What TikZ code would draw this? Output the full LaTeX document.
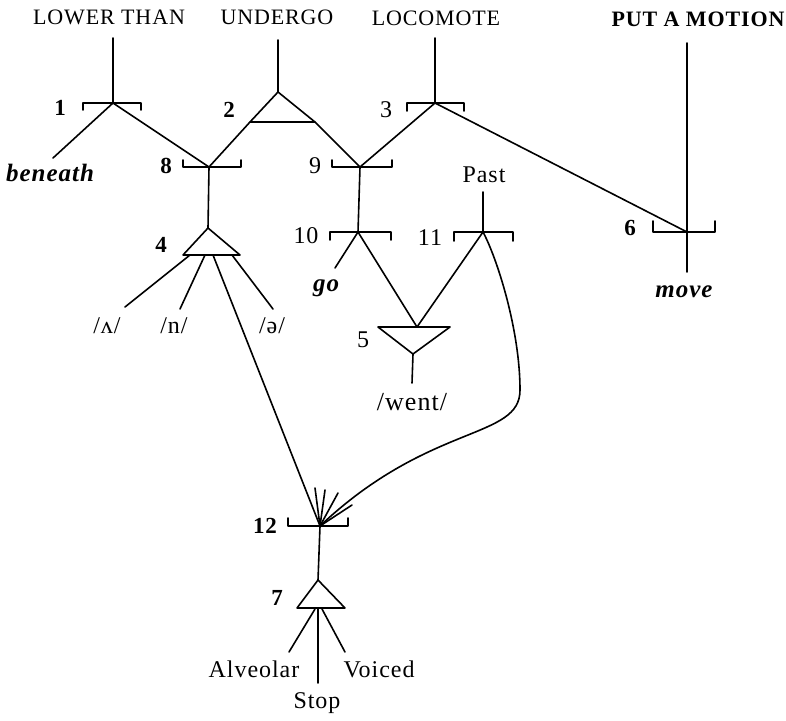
\documentclass[tikz,border=0pt]{standalone}
\usepackage{fontspec}
\setmainfont{Liberation Serif}[LetterSpace=4]
\begin{document}
\begin{tikzpicture}[x=1pt,y=-1pt,
  ln/.style={line width=1.6pt, line cap=round, line join=round},
  caplab/.style={anchor=base, inner sep=0pt, font=\fontsize{22}{24}\selectfont},
  lab/.style={anchor=base, inner sep=0pt, font=\fontsize{24}{26}\selectfont},
  blab/.style={anchor=base, inner sep=0pt, font=\fontsize{23}{26}\selectfont\bfseries},
  ilab/.style={anchor=base, inner sep=0pt, font=\fontsize{25}{26}\selectfont\bfseries\itshape}]
\useasboundingbox (0,0) rectangle (786,720);
% ---------- labels ----------
\node[caplab]  (lt)  at (109,24) {LOWER THAN};
\node[caplab]  (ug)  at (277,24) {UNDERGO};
\node[caplab]  (lc)  at (436,25) {LOCOMOTE};
\node[caplab, font=\fontsize{22}{24}\selectfont\bfseries] (pm) at (698,26) {PUT A MOTION};
\node[ilab] (bn)  at (50,181) {beneath};
\node[ilab] (go)  at (326,291) {go};
\node[ilab] (mv)  at (684,297) {move};
\node[lab]  (past) at (484,182) {Past};
\node[blab] (n1)  at (60,115) {1};
\node[blab] (n2)  at (229,117) {2};
\node[lab]  (n3)  at (386,117) {3};
\node[blab] (n8)  at (166,173) {8};
\node[lab]  (n9)  at (315,173) {9};
\node[lab]  (n10) at (306,243) {10};
\node[lab]  (n11) at (430,245) {11};
\node[blab] (n6)  at (630,235) {6};
\node[blab] (n4)  at (161,252) {4};
\node[lab]  (n5)  at (363,347) {5};
\node[blab] (n12) at (265,533) {12};
\node[blab] (n7)  at (277,605) {7};
\node[lab]  (pa)  at (107,333) {/ʌ/};
\node[lab]  (pn)  at (174,333) {/n/};
\node[lab]  (pe)  at (272,333) {/ə/};
\node[lab, font=\fontsize{26}{28}\selectfont] (went) at (412,410) {/went/};
\node[lab]  (alv) at (254,677) {Alveolar};
\node[lab]  (voi) at (379,677) {Voiced};
\node[lab]  (stp) at (317,708) {Stop};
% ---------- junction points ----------
\coordinate (j1)  at (113,103);
\coordinate (j8)  at (209,167);
\coordinate (j3)  at (435,103);
\coordinate (j9)  at (360,167);
\coordinate (j10) at (358,232);
\coordinate (j11) at (483,232);
\coordinate (j6)  at (687,232);
\coordinate (j12) at (320,526);
% free ends
\coordinate (e1)  at (113,38);
\coordinate (e2)  at (278,40);
\coordinate (e3)  at (435,38);
\coordinate (e6)  at (687,43);
\coordinate (e6b) at (687,272);
\coordinate (ebn) at (53,158);
\coordinate (ego) at (335,268);
\coordinate (epast) at (483,192);
\coordinate (ewent) at (412,383);
\coordinate (ea)  at (125,307);
\coordinate (en)  at (180,309);
\coordinate (ee)  at (273,309);
\coordinate (ealv) at (289,652);
\coordinate (evoi) at (345,652);
\coordinate (estp) at (318,683);
\coordinate (s1) at (315,488);
\coordinate (s2) at (325,490);
\coordinate (s3) at (338,493);
\coordinate (s4) at (352,505);
% ---------- triangles ----------
\coordinate (t2a) at (278,92);  \coordinate (t2l) at (250,122); \coordinate (t2r) at (315,122);
\coordinate (t4a) at (208,228); \coordinate (t4l) at (183,255); \coordinate (t4r) at (240,255);
\coordinate (t4p1) at (190,255); \coordinate (t4p2) at (205,255);
\coordinate (t4p3) at (213,255); \coordinate (t4p4) at (232,255);
\coordinate (t5l) at (378,327); \coordinate (t5r) at (450,327);
\coordinate (t5a) at (413,354); \coordinate (t5m) at (417,327);
\coordinate (t7a) at (318,580); \coordinate (t7l) at (297,608); \coordinate (t7r) at (345,608);
\coordinate (t7p1) at (315,609); \coordinate (t7p2) at (318,609); \coordinate (t7p3) at (322,609);
\draw[ln] (t2a) -- (t2l) -- (t2r) -- cycle;
\draw[ln] (t4a) -- (t4l) -- (t4r) -- cycle;
\draw[ln] (t5l) -- (t5r) -- (t5a) -- cycle;
\draw[ln] (t7a) -- (t7l) -- (t7r) -- cycle;
% ---------- brackets ----------
\draw[ln] ([shift={(-30,7)}]j1) -- ([shift={(-30,0)}]j1) -- ([shift={(28,0)}]j1) -- ([shift={(28,7)}]j1);
\draw[ln] ([shift={(-26,-7)}]j8) -- ([shift={(-26,0)}]j8) -- ([shift={(32,0)}]j8) -- ([shift={(32,-7)}]j8);
\draw[ln] ([shift={(-28,8)}]j3) -- ([shift={(-28,0)}]j3) -- ([shift={(29,0)}]j3) -- ([shift={(29,8)}]j3);
\draw[ln] ([shift={(-28,-7)}]j9) -- ([shift={(-28,0)}]j9) -- ([shift={(32,0)}]j9) -- ([shift={(32,-7)}]j9);
\draw[ln] ([shift={(-28,8)}]j10) -- ([shift={(-28,0)}]j10) -- ([shift={(33,0)}]j10) -- ([shift={(33,8)}]j10);
\draw[ln] ([shift={(-29,9)}]j11) -- ([shift={(-29,0)}]j11) -- ([shift={(30,0)}]j11) -- ([shift={(30,9)}]j11);
\draw[ln] ([shift={(-34,-11)}]j6) -- ([shift={(-34,0)}]j6) -- ([shift={(28,0)}]j6) -- ([shift={(28,-11)}]j6);
\draw[ln] ([shift={(-32,-8)}]j12) -- ([shift={(-32,0)}]j12) -- ([shift={(28,0)}]j12) -- ([shift={(28,-8)}]j12);
% ---------- connectors ----------
\draw[ln] (e1) -- (j1);
\draw[ln] (j1) -- (ebn);
\draw[ln] (j1) -- (j8);
\draw[ln] (j8) -- (t2l);
\draw[ln] (e2) -- (t2a);
\draw[ln] (t2r) -- (j9);
\draw[ln] (e3) -- (j3);
\draw[ln] (j3) -- (j9);
\draw[ln] (j3) -- (j6);
\draw[ln] (e6) -- (e6b);
\draw[ln] (j9) -- (j10);
\draw[ln] (j10) -- (ego);
\draw[ln] (j10) -- (t5m);
\draw[ln] (epast) -- (j11);
\draw[ln] (j11) -- (t5m);
\draw[ln] (t5a) -- (ewent);
\draw[ln] (j8) -- (t4a);
\draw[ln] (t4p1) -- (ea);
\draw[ln] (t4p2) -- (en);
\draw[ln] (t4p4) -- (ee);
\draw[ln] (t4p3) -- (j12);
\draw[ln] (j11) .. controls (497,258) and (520,330) .. (520,390)
                .. controls (520,440) and (430,422) .. (j12);
\draw[ln] (s1) -- (j12);
\draw[ln] (s2) -- (j12);
\draw[ln] (s3) -- (j12);
\draw[ln] (s4) -- (j12);
\draw[ln] (j12) -- (t7a);
\draw[ln] (t7p1) -- (ealv);
\draw[ln] (t7p2) -- (estp);
\draw[ln] (t7p3) -- (evoi);
\end{tikzpicture}
\end{document}
